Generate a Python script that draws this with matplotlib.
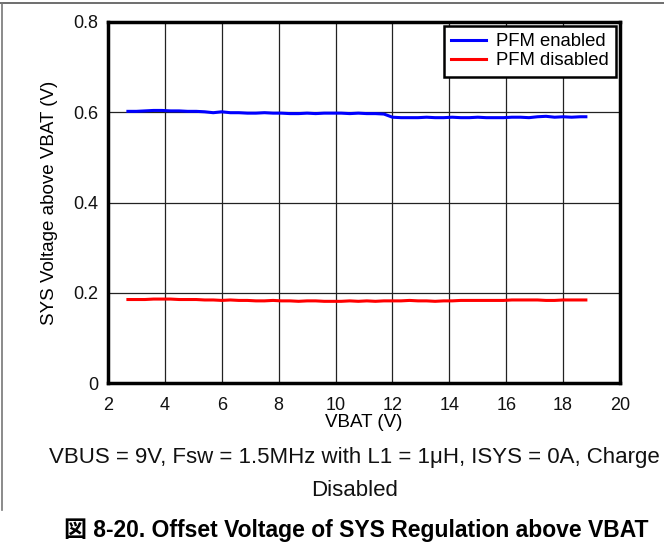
import matplotlib
matplotlib.use("Agg")
import matplotlib.pyplot as plt
from matplotlib.lines import Line2D

plt.rcParams['font.family'] = ['Liberation Sans', 'Noto Sans CJK JP', 'DejaVu Sans']

# VBAT sweep (V)
vbat = [2.7, 3.0, 3.3, 3.6, 3.9, 4.2, 4.5, 4.8, 5.1, 5.4, 5.7, 6.0, 6.3, 6.6,
        6.9, 7.2, 7.5, 7.8, 8.1, 8.4, 8.7, 9.0, 9.3, 9.6, 9.9, 10.2, 10.5, 10.8,
        11.1, 11.4, 11.7, 12.0, 12.3, 12.6, 12.9, 13.2, 13.5, 13.8, 14.1, 14.4,
        14.7, 15.0, 15.3, 15.6, 15.9, 16.2, 16.5, 16.8, 17.1, 17.4, 17.7, 18.0,
        18.3, 18.6, 18.8]

pfm_enabled = [0.602, 0.602, 0.603, 0.604, 0.604, 0.603, 0.603, 0.602, 0.602,
               0.601, 0.599, 0.601, 0.599, 0.599, 0.598, 0.598, 0.599, 0.598,
               0.598, 0.597, 0.597, 0.598, 0.597, 0.598, 0.598, 0.598, 0.597,
               0.598, 0.597, 0.597, 0.596, 0.589, 0.588, 0.588, 0.588, 0.589,
               0.588, 0.588, 0.589, 0.588, 0.588, 0.589, 0.588, 0.588, 0.588,
               0.589, 0.589, 0.588, 0.590, 0.591, 0.589, 0.590, 0.589, 0.590,
               0.590]

pfm_disabled = [0.185, 0.185, 0.185, 0.186, 0.186, 0.186, 0.185, 0.185, 0.185,
                0.184, 0.184, 0.183, 0.184, 0.183, 0.183, 0.182, 0.182, 0.183,
                0.182, 0.182, 0.181, 0.182, 0.182, 0.181, 0.181, 0.181, 0.182,
                0.181, 0.182, 0.181, 0.182, 0.182, 0.182, 0.183, 0.182, 0.182,
                0.181, 0.182, 0.182, 0.183, 0.183, 0.183, 0.183, 0.183, 0.183,
                0.184, 0.184, 0.184, 0.184, 0.183, 0.183, 0.184, 0.184, 0.184,
                0.184]

x_ticks = [2, 4, 6, 8, 10, 12, 14, 16, 18, 20]
y_ticks = [0, 0.2, 0.4, 0.6, 0.8]
y_tick_labels = ['0', '0.2', '0.4', '0.6', '0.8']

fig = plt.figure(figsize=(6.64, 5.52), dpi=100)
ax = fig.add_axes([108 / 664, 1 - 383 / 552, 512 / 664, 361 / 552])

ax.plot(vbat, pfm_enabled, color='#0000ff', lw=2.2, label='PFM enabled')
ax.plot(vbat, pfm_disabled, color='#ff0000', lw=2.2, label='PFM disabled')

ax.set_xlim(2, 20)
ax.set_ylim(0, 0.8)
ax.set_xticks(x_ticks)
ax.set_xticklabels([str(t) for t in x_ticks])
ax.set_yticks(y_ticks)
ax.set_yticklabels(y_tick_labels)
ax.tick_params(length=0, labelsize=13, colors='#111111')
ax.tick_params(axis='x', pad=10)
ax.tick_params(axis='y', pad=7)
ax.grid(True, color='#222222', lw=0.9)
ax.set_axisbelow(True)
for s in ax.spines.values():
    s.set_linewidth(2.5)
    s.set_color('black')

ax.set_xlabel('VBAT (V)', fontsize=13.5, labelpad=0)
ax.yaxis.set_label_coords(-(108 - 50) / 512, 0.5)
ax.set_ylabel('SYS Voltage above VBAT (V)', fontsize=13.5, va='center')

leg = ax.legend(loc='upper right', fontsize=13.3, frameon=True, fancybox=False,
                borderpad=0.4, handlelength=1.9, handletextpad=0.55,
                labelspacing=0.12, borderaxespad=0.2)
leg.get_frame().set_edgecolor('black')
leg.get_frame().set_linewidth(1.8)
leg.get_frame().set_alpha(1)

fig.text(354 / 664, 1 - 458 / 552,
         'VBUS = 9V, Fsw = 1.5MHz with L1 = 1μH, ISYS = 0A, Charge',
         ha='center', va='center', fontsize=16, color='#111111')
fig.text(355 / 664, 1 - 490 / 552, 'Disabled',
         ha='center', va='center', fontsize=16, color='#111111')
fig.text(356 / 664, 1 - 530 / 552,
         '図 8-20. Offset Voltage of SYS Regulation above VBAT',
         ha='center', va='center', fontsize=16.5, fontweight='bold', color='black')

# outer frame around plot + caption
fig.add_artist(Line2D([0, 1], [1 - 3 / 552, 1 - 3 / 552],
                      transform=fig.transFigure, color='#555555', lw=1.2))
fig.add_artist(Line2D([1.5 / 664, 1.5 / 664], [1 - 3 / 552, 1 - 510 / 552],
                      transform=fig.transFigure, color='#777777', lw=1.2))

fig.savefig('out.png', dpi=100)
